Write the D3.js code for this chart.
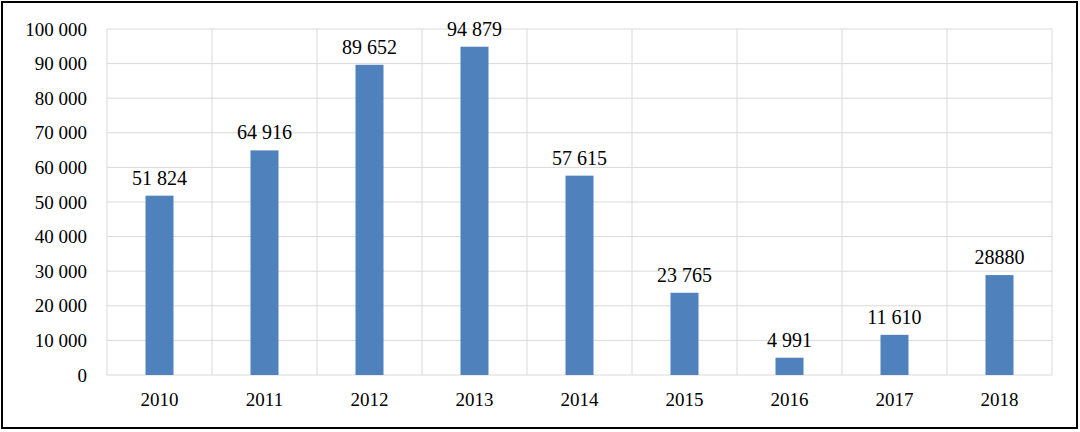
<!DOCTYPE html>
<html><head><meta charset="utf-8">
<script src="https://cdn.jsdelivr.net/npm/d3@7"></script>
<style>body{margin:0;background:#fff}svg{display:block}</style>
</head><body><svg width="1080" height="432"></svg>
<script>
const years=["2010","2011","2012","2013","2014","2015","2016","2017","2018"];
const values=[51824,64916,89652,94879,57615,23765,4991,11610,28880];
const labels=["51 824","64 916","89 652","94 879","57 615","23 765","4 991","11 610","28880"];
const yTicks=[0,10000,20000,30000,40000,50000,60000,70000,80000,90000,100000];

const svg=d3.select("svg");
const font="'Liberation Serif','Times New Roman',serif";
svg.append("rect").attr("x",2).attr("y",2).attr("width",1075).attr("height",426)
  .attr("fill","#fff").attr("stroke","#000").attr("stroke-width",2);
const L=107,R=1052,T=29,B=375;
const x=d3.scaleBand().domain(years).range([L,R]);
const y=d3.scaleLinear().domain([0,100000]).range([B,T]);
const fmt=v=>d3.format(",")(v).replace(/,/g," ");
const g=svg.append("g");
g.selectAll(".h").data(yTicks).join("line").attr("x1",L).attr("x2",R)
  .attr("y1",d=>y(d)).attr("y2",d=>y(d)).attr("stroke","#d9d9d9").attr("stroke-width",1);
const bounds=years.map(d=>x(d)).concat([R]);
g.selectAll(".v").data(bounds).join("line").attr("x1",d=>d).attr("x2",d=>d)
  .attr("y1",T).attr("y2",B).attr("stroke","#d9d9d9").attr("stroke-width",1);
const yAxis=d3.axisLeft(y).tickValues(yTicks).tickFormat(fmt).tickSize(0).tickPadding(20);
const ya=svg.append("g").attr("transform",`translate(${L},0)`).call(yAxis);
ya.select(".domain").remove();
ya.selectAll("text").attr("font-family",font).attr("font-size",19).attr("fill","#000");
const xAxis=d3.axisBottom(x).tickSize(0).tickPadding(18);
const xa=svg.append("g").attr("transform",`translate(0,${B})`).call(xAxis);
xa.select(".domain").remove();
xa.selectAll("text").attr("font-family",font).attr("font-size",19).attr("fill","#000");
const bw=28;
svg.selectAll(".bar").data(values).join("rect")
  .attr("x",(d,i)=>x(years[i])+x.bandwidth()/2-bw/2).attr("width",bw)
  .attr("y",d=>y(d)).attr("height",d=>B-y(d)).attr("fill","#4f81bd");
svg.selectAll(".lbl").data(values).join("text")
  .attr("x",(d,i)=>x(years[i])+x.bandwidth()/2).attr("y",d=>y(d)-11)
  .attr("text-anchor","middle").attr("font-family",font).attr("font-size",20)
  .text((d,i)=>labels[i]);
</script></body></html>
